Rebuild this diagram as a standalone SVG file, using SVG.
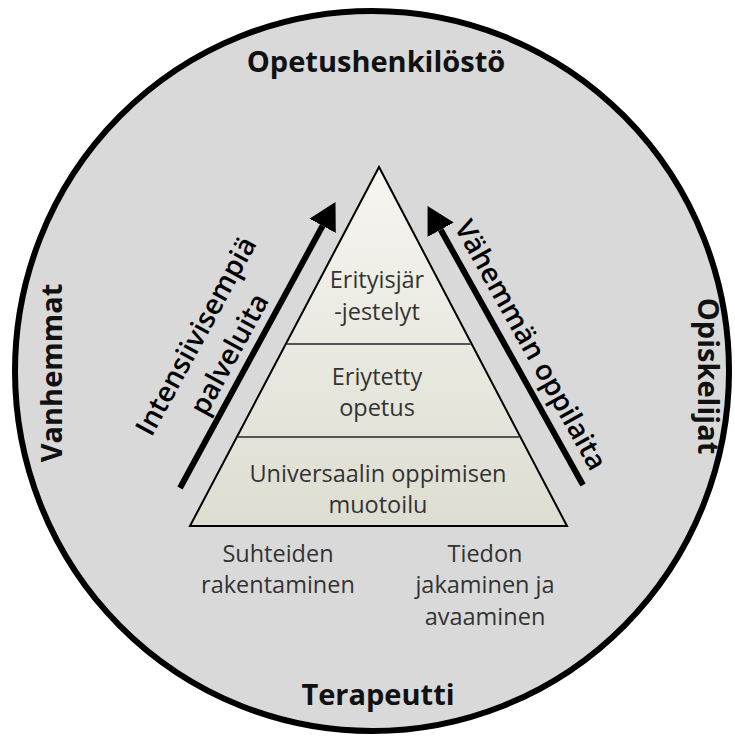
<svg xmlns="http://www.w3.org/2000/svg" width="735" height="739" viewBox="0 0 735 739">
<defs>
<linearGradient id="pyr" x1="0" y1="0" x2="0" y2="1">
<stop offset="0" stop-color="#f6f5f0"/>
<stop offset="1" stop-color="#deddd1"/>
</linearGradient>
<marker id="head" markerUnits="userSpaceOnUse" markerWidth="28" markerHeight="30" refX="0" refY="15" orient="auto" viewBox="0 0 28 30">
<path d="M0,0 L27,15 L0,30 Z" fill="#000"/>
</marker>
<style>
.lbl{font-family:"Open Sans","DejaVu Sans",sans-serif;font-weight:bold;font-size:29px;fill:#111;text-anchor:middle}
.tx{font-family:"Open Sans","DejaVu Sans",sans-serif;font-size:23.5px;fill:#333;text-anchor:middle}
.ar{font-family:"Open Sans","DejaVu Sans",sans-serif;font-size:28px;font-weight:600;fill:#000;text-anchor:middle}
.arrow{stroke:#000;stroke-width:6;fill:none;marker-end:url(#head)}
.div{stroke:#555;stroke-width:2}
</style>
</defs>
<rect width="735" height="739" fill="#fff"/>
<g id="circle">
<ellipse cx="372" cy="371" rx="357" ry="360" fill="#d9d9d9" stroke="#000" stroke-width="6"/>
<text class="lbl" x="376" y="72">Opetushenkilöstö</text>
<text class="lbl" x="378" y="705">Terapeutti</text>
<text class="lbl" transform="translate(62,373) rotate(-90)">Vanhemmat</text>
<text class="lbl" transform="translate(698,376) rotate(90)">Opiskelijat</text>
</g>
<g id="pyramid">
<polygon points="379,167 190,526 567,526" fill="url(#pyr)" stroke="#000" stroke-width="2" stroke-linejoin="miter"/>
<line class="div" x1="287" y1="344" x2="471" y2="344"/>
<line class="div" x1="238" y1="437" x2="519" y2="437"/>
</g>
<g id="tier-top">
<text class="tx" x="377" y="288">Erityisjär</text>
<text class="tx" x="377" y="320">-jestelyt</text>
</g>
<g id="tier-middle">
<text class="tx" x="377" y="385">Eriytetty</text>
<text class="tx" x="377" y="416">opetus</text>
</g>
<g id="tier-bottom">
<text class="tx" x="378" y="482">Universaalin oppimisen</text>
<text class="tx" x="378" y="513">muotoilu</text>
</g>
<g id="relations">
<text class="tx" x="278" y="562">Suhteiden</text>
<text class="tx" x="278" y="593">rakentaminen</text>
</g>
<g id="information">
<text class="tx" x="485" y="562">Tiedon</text>
<text class="tx" x="485" y="593">jakaminen ja</text>
<text class="tx" x="485" y="625">avaaminen</text>
</g>
<g id="connectors">
<line class="arrow" x1="180" y1="488" x2="322.6" y2="225.8"/>
<line class="arrow" x1="583" y1="485" x2="440.7" y2="229.7"/>
</g>
<g id="arrow-labels">
<g transform="translate(247.4,364) rotate(-61.5)">
<text class="ar" x="0" y="-49">Intensiivisempiä</text>
<text class="ar" x="0" y="-11">palveluita</text>
</g>
<g transform="translate(511,356) rotate(60.8)">
<text class="ar" x="0" y="-13">Vähemmän oppilaita</text>
</g>
</g>
</svg>
